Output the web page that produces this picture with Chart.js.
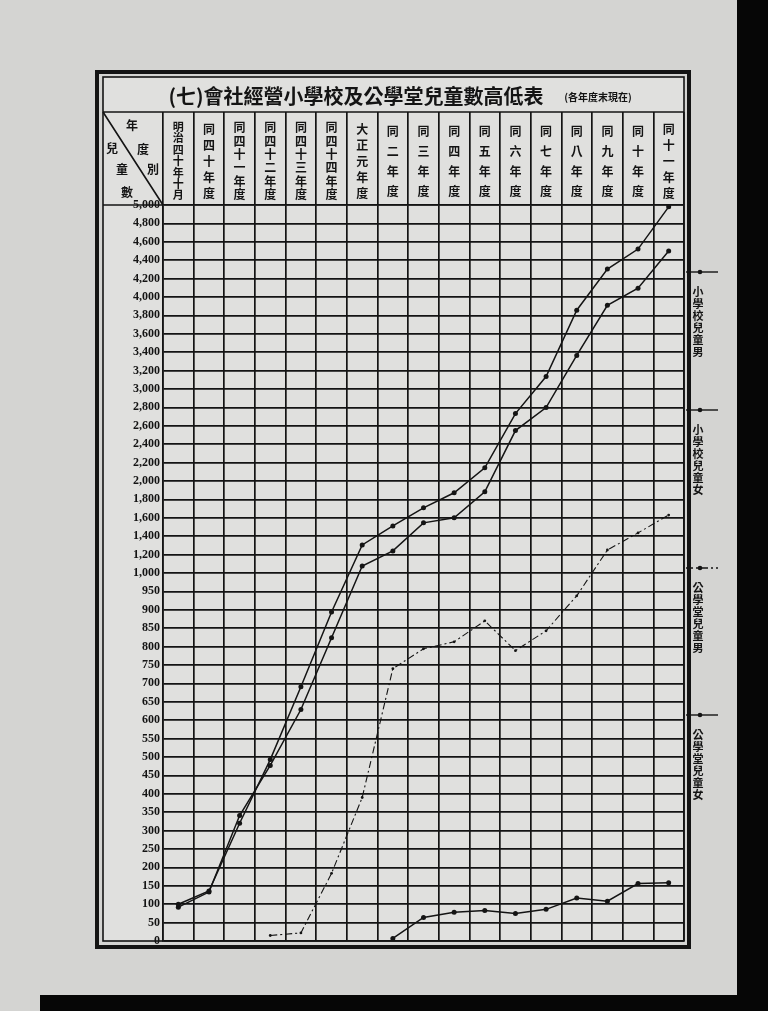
<!DOCTYPE html>
<html lang="zh-Hant">
<head>
<meta charset="utf-8">
<title>會社經營小學校及公學堂兒童數高低表</title>
<script src="https://cdn.jsdelivr.net/npm/chart.js@4.4.0/dist/chart.umd.min.js"></script>
<style>
  html, body { margin: 0; padding: 0; background: #d4d4d2; }
  #wrap { width: 768px; height: 1011px; }
</style>
</head>
<body>
<div id="wrap"><canvas id="chart" width="768" height="1011"></canvas></div>
<script>
// columns (fiscal years), read top to bottom in the header
const categories = [
  "明治四十年十月", "同四十年度", "同四十一年度", "同四十二年度", "同四十三年度",
  "同四十四年度", "大正元年度", "同二年度", "同三年度", "同四年度", "同五年度",
  "同六年度", "同七年度", "同八年度", "同九年度", "同十年度", "同十一年度"
];

// y axis: 0-1,000 by 50, then 1,000-5,000 by 200 (one grid row each)
const yTickLabels = [
  "0", "50", "100", "150", "200", "250", "300", "350", "400", "450", "500",
  "550", "600", "650", "700", "750", "800", "850", "900", "950", "1,000",
  "1,200", "1,400", "1,600", "1,800", "2,000", "2,200", "2,400", "2,600", "2,800", "3,000",
  "3,200", "3,400", "3,600", "3,800", "4,000", "4,200", "4,400", "4,600", "4,800", "5,000"
];

const seriesNames = ["小學校兒童男", "小學校兒童女", "公學堂兒童男", "公學堂兒童女"];

const schoolBoys = [100, 136, 320, 493, 691, 894, 1305, 1512, 1708, 1872, 2144, 2733, 3136, 3856, 4303, 4521, 4980];
const schoolGirls = [92, 133, 341, 477, 629, 824, 1076, 1240, 1545, 1600, 1883, 2548, 2798, 3365, 3910, 4095, 4499];
const publicBoys = [null, null, null, 15, 22, 184, 390, 740, 794, 813, 870, 789, 843, 938, 1250, 1436, 1630];
const publicGirls = [null, null, null, null, null, null, null, 7, 64, 78, 83, 75, 86, 117, 108, 156, 158];

const ink = "#141414";
const cjk = '"Noto Sans CJK TC", "Noto Sans CJK JP", sans-serif';

// the printed scale changes step at 1,000
function toGrid(v) {
  if (v === null) return null;
  return v <= 1000 ? v / 50 : 20 + (v - 1000) / 200;
}

const paper = {
  id: "paper",
  beforeDraw(chart) {
    const c = chart.ctx;
    c.save();
    c.fillStyle = "#d4d4d2";
    c.fillRect(0, 0, chart.width, chart.height);
    c.fillStyle = "#e0e0de";
    c.fillRect(103, 77, 581, 864);
    c.fillStyle = "#060606";
    c.fillRect(737, 0, 31, chart.height);
    c.fillRect(40, 995, 728, 16);
    c.restore();
  },
  afterDraw(chart) {
    const c = chart.ctx;
    c.save();
    c.strokeStyle = ink;
    c.fillStyle = ink;

    // header lines and corner cell
    c.lineWidth = 1.6;
    c.beginPath();
    c.moveTo(103, 112); c.lineTo(684, 112);
    c.moveTo(103, 112); c.lineTo(163, 205);
    c.moveTo(103, 205); c.lineTo(163, 205);
    c.stroke();

    c.font = "bold 12px " + cjk;
    c.textAlign = "center";
    c.textBaseline = "middle";
    [["年", 132, 125], ["度", 143, 149], ["兒", 112, 148], ["別", 153, 169],
     ["童", 122, 169], ["數", 127, 192]].forEach(([t, x, y]) => c.fillText(t, x, y));

    // title
    c.font = "bold 20px " + cjk;
    c.fillText("(七)會社經營小學校及公學堂兒童數高低表", 356, 96);
    c.font = "bold 10px " + cjk;
    c.fillText("(各年度末現在)", 598, 97);

    // frame
    c.lineWidth = 4;
    c.strokeRect(97, 72, 592, 875);
    c.lineWidth = 1.6;
    c.strokeRect(103, 77, 581, 864);

    // legend at the right edge
    const legendY = [272, 410, 568, 715];
    seriesNames.forEach((name, i) => {
      const y = legendY[i];
      c.lineWidth = 1.4;
      c.setLineDash(i === 2 ? [7, 3, 2, 3] : []);
      c.beginPath();
      c.moveTo(686, y); c.lineTo(718, y);
      c.stroke();
      c.setLineDash([]);
      c.beginPath();
      c.arc(700, y, 2.3, 0, Math.PI * 2);
      c.fill();
      c.font = "bold 11px " + cjk;
      Array.from(name).forEach((ch, k) => c.fillText(ch, 698, y + 20 + k * 12));
    });
    c.restore();
  }
};

const lineStyle = {
  borderColor: ink,
  backgroundColor: ink,
  borderWidth: 1.5,
  pointRadius: 2.5,
  pointBackgroundColor: ink,
  pointBorderWidth: 0,
  tension: 0,
  spanGaps: false
};

new Chart(document.getElementById("chart"), {
  type: "line",
  data: {
    labels: categories,
    datasets: [
      { ...lineStyle, label: seriesNames[0], data: schoolBoys.map(toGrid) },
      { ...lineStyle, label: seriesNames[1], data: schoolGirls.map(toGrid) },
      { ...lineStyle, label: seriesNames[2], data: publicBoys.map(toGrid),
        borderWidth: 1.1, borderDash: [7, 3, 2, 3], pointRadius: 1.4 },
      { ...lineStyle, label: seriesNames[3], data: publicGirls.map(toGrid) }
    ]
  },
  options: {
    responsive: false,
    animation: false,
    devicePixelRatio: 1,
    layout: { padding: { left: 103, right: 84, top: 112, bottom: 70 } },
    plugins: {
      legend: { display: false },
      title: { display: false },
      tooltip: { enabled: false }
    },
    scales: {
      x: {
        position: "top",
        offset: true,
        grid: {
          offset: true,
          color: ink,
          lineWidth: 1.7,
          tickLength: 93,
          drawTicks: true
        },
        border: { color: ink, width: 1.6 },
        ticks: {
          color: ink,
          autoSkip: false,
          maxRotation: 0,
          padding: -89,
          callback: (v, i) => Array.from(categories[i]),
          font: (ctx) => {
            const n = Array.from(categories[ctx.index] || "同").length;
            return {
              family: cjk,
              weight: "bold",
              size: n > 6 ? 11 : 12,
              lineHeight: (80 / n).toFixed(2) + "px"
            };
          }
        },
        afterFit: (s) => {
          s.height = 93;
          s.paddingLeft = 0;
          s.paddingRight = 0;
        }
      },
      y: {
        min: 0,
        max: 40,
        grid: { color: ink, lineWidth: 1.7, drawTicks: false },
        border: { color: ink, width: 1.6 },
        ticks: {
          stepSize: 1,
          autoSkip: false,
          padding: 3,
          color: ink,
          font: { family: '"Liberation Serif", serif', weight: "bold", size: 12 },
          callback: (v) => yTickLabels[v]
        },
        afterFit: (s) => {
          s.width = 60;
          s.paddingTop = 0;
          s.paddingBottom = 0;
        }
      }
    }
  },
  plugins: [paper]
});
</script>
</body>
</html>
